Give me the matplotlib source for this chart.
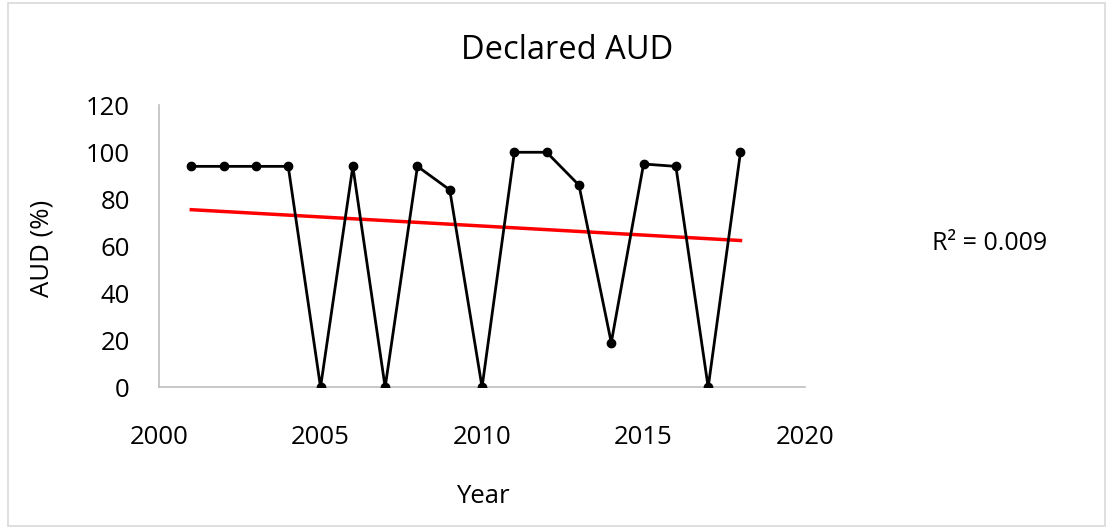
import numpy as np
import matplotlib.pyplot as plt
from matplotlib.patches import Rectangle

plt.rcParams['font.family'] = ['Open Sans', 'DejaVu Sans']

# data
years = [2001, 2002, 2003, 2004, 2005, 2006, 2007, 2008, 2009,
         2010, 2011, 2012, 2013, 2014, 2015, 2016, 2017, 2018]
aud = [94, 94, 94, 94, 0, 94, 0, 94, 84,
       0, 100, 100, 86, 19, 95, 94, 0, 100]
r2_label = 'R² = 0.009'

fig = plt.figure(figsize=(11.12, 5.29), dpi=100)
ax = fig.add_axes([0.143, 0.268, 0.581, 0.533])

ax.plot(years, aud, color='black', lw=2, marker='o', ms=6, zorder=3)

# linear trendline
coef = np.polyfit(years, aud, 1)
tx = np.array([years[0], years[-1]])
ax.plot(tx, np.polyval(coef, tx), color='#ff0000', lw=2.5, zorder=2)

ax.set_xlim(2000, 2020)
ax.set_ylim(0, 120)
ax.set_xticks(range(2000, 2021, 5))
ax.set_yticks(range(0, 121, 20))
ax.tick_params(length=0, labelsize=18.5)
ax.tick_params(axis='y', pad=21)
ax.tick_params(axis='x', pad=27)
for s in ['top', 'right']:
    ax.spines[s].set_visible(False)
for s in ['left', 'bottom']:
    ax.spines[s].set_color('#bfbfbf')
    ax.spines[s].set_linewidth(1.2)
for lab in ax.get_xticklabels() + ax.get_yticklabels():
    lab.set_clip_on(False)

fig.text(0.51, 0.905, 'Declared AUD', ha='center', va='center', fontsize=23.5)
fig.text(0.434, 0.062, 'Year', ha='center', va='center', fontsize=18.5)
fig.text(0.038, 0.53, 'AUD (%)', ha='center', va='center', fontsize=18.5, rotation=90)
fig.text(0.89, 0.54, r2_label, ha='center', va='center', fontsize=18)

fig.patches.append(Rectangle((0.007, 0.005), 0.987, 0.99, transform=fig.transFigure,
                             fill=False, edgecolor='#d9d9d9', lw=1.2))

fig.savefig('out.png', dpi=100)
